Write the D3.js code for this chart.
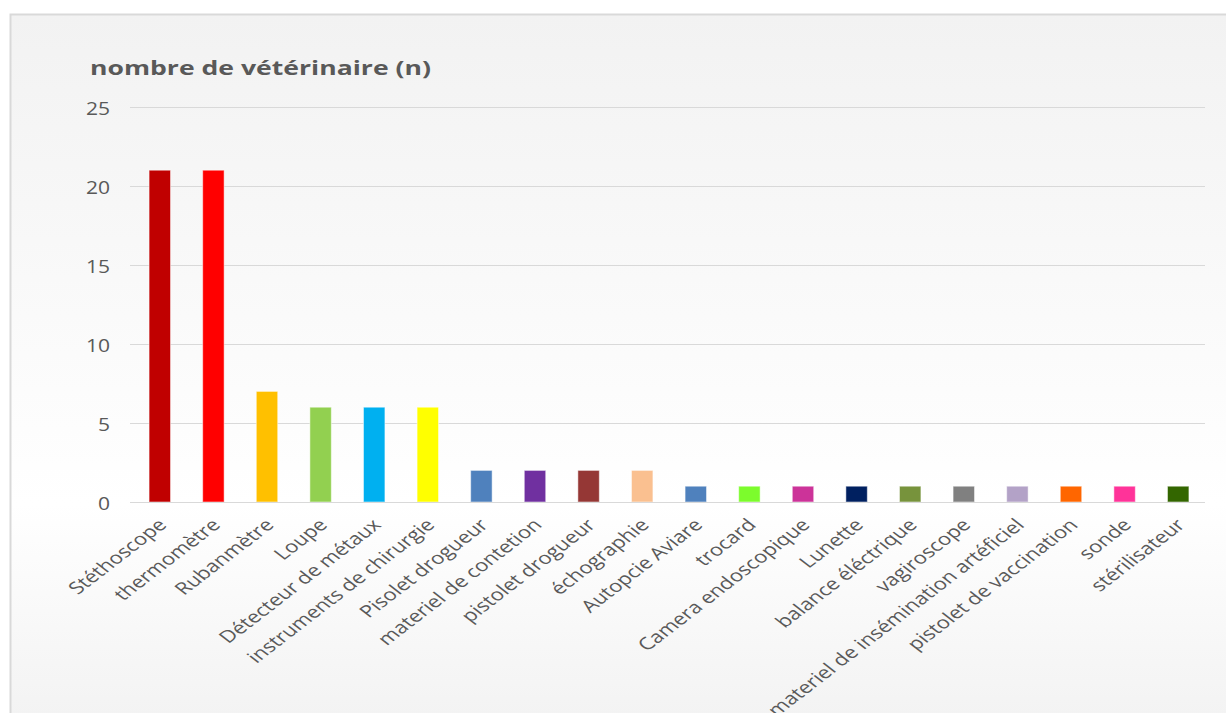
<!DOCTYPE html>
<html><head><meta charset="utf-8">
<script src="https://cdn.jsdelivr.net/npm/d3@7"></script>
<style>
html,body{margin:0;padding:0;background:#fff;}
svg{display:block;}
text{font-family:"Open Sans","Noto Sans",sans-serif;}
</style></head>
<body>
<svg id="c" width="1226" height="713"></svg>
<script>
const categories = ["Stéthoscope","thermomètre","Rubanmètre","Loupe","Détecteur de métaux","instruments de chirurgie","Pisolet drogueur","materiel de contetion","pistolet drogueur","échographie","Autopcie Aviare","trocard","Camera endoscopique","Lunette","balance éléctrique","vagiroscope","materiel de insémination artéficiel","pistolet de vaccination","sonde","stérilisateur"];
const values = [21,21,7,6,6,6,2,2,2,2,1,1,1,1,1,1,1,1,1,1];
const colors = ["#C00000","#FF0000","#FFC000","#92D050","#00B0F0","#FFFF00","#4F81BD","#7030A0","#953735","#FAC090","#4F81BD","#7CFC2C","#CC3399","#002060","#77933C","#808080","#B3A2C7","#FF6600","#FF3399","#336600"];
const yTicks = [0,5,10,15,20,25];
const title = "nombre de vétérinaire (n)";

const svg = d3.select("#c");
const defs = svg.append("defs");
const g = defs.append("linearGradient").attr("id","bg").attr("x1",0).attr("y1",0).attr("x2",0).attr("y2",1);
g.append("stop").attr("offset","0%").attr("stop-color","#f2f2f2");
g.append("stop").attr("offset","68%").attr("stop-color","#ffffff");
g.append("stop").attr("offset","100%").attr("stop-color","#f2f2f2");

svg.append("rect").attr("x",10.5).attr("y",14.5).attr("width",1230).attr("height",720)
  .attr("fill","url(#bg)").attr("stroke","#d9d9d9").attr("stroke-width",2);

svg.append("text").attr("transform","translate(90,75) scale(1.33,1)").text(title)
  .attr("font-size",20).attr("font-weight","bold").attr("fill","#595959");

const x = d3.scaleBand().domain(categories).range([133,1205]).paddingInner(0.6).paddingOuter(0.3);
const y = d3.scaleLinear().domain([0,25]).range([502,107]);

const yAxis = svg.append("g").attr("transform","translate(130,0)")
  .call(d3.axisLeft(y).tickValues(yTicks).tickSize(-1075).tickPadding(0));
yAxis.select(".domain").remove();
yAxis.selectAll(".tick line").attr("stroke","#d9d9d9").attr("stroke-width",1);
yAxis.selectAll(".tick text").attr("font-size",18).attr("fill","#595959")
  .attr("font-family","Open Sans, sans-serif").attr("x",null).attr("dy",null)
  .attr("transform","translate(-20,7) scale(1.17,1)");

svg.append("g").selectAll("rect").data(categories).join("rect")
  .attr("x",d=>x(d)).attr("width",x.bandwidth())
  .attr("y",(d,i)=>y(values[i])).attr("height",(d,i)=>y(0)-y(values[i]))
  .attr("fill",(d,i)=>colors[i])
  .attr("stroke","rgba(255,255,255,0.5)").attr("stroke-width",1);

const xAxis = svg.append("g").attr("transform","translate(0,502)")
  .call(d3.axisBottom(x).tickSize(0).tickPadding(0));
xAxis.select(".domain").attr("stroke","#d9d9d9").attr("d","M130,0.5H1205");
xAxis.selectAll(".tick text")
  .attr("font-size",17).attr("fill","#595959").attr("font-family","Open Sans, sans-serif")
  .attr("text-anchor","end").attr("dy",null).attr("y",null)
  .attr("transform","translate(8,24) scale(1.3,1) rotate(-45)");
</script>
</body></html>
